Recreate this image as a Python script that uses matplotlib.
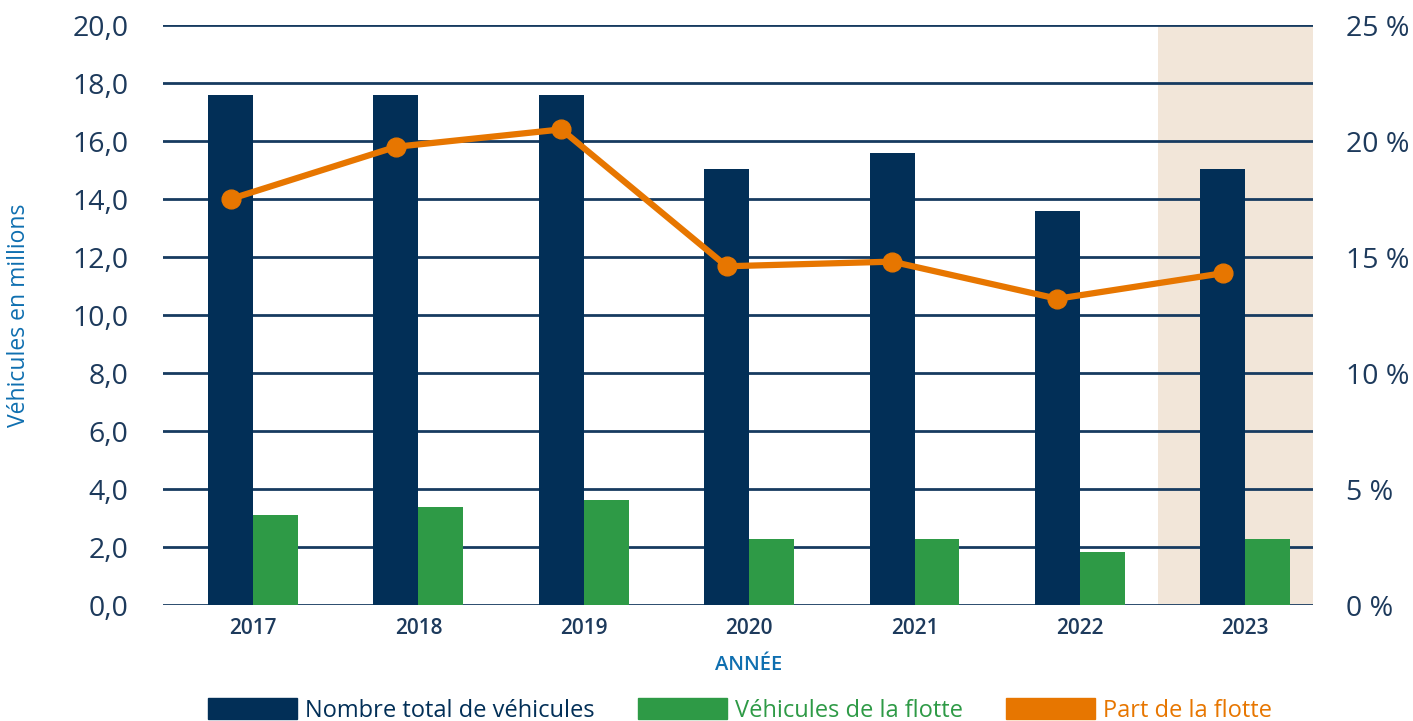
import matplotlib
matplotlib.use("Agg")
import matplotlib.pyplot as plt
from matplotlib.patches import Patch
import numpy as np

years = ["2017", "2018", "2019", "2020", "2021", "2022", "2023"]
total_vehicles = [17.6, 17.6, 17.6, 15.05, 15.6, 13.6, 15.05]
fleet_vehicles = [3.1, 3.38, 3.62, 2.28, 2.28, 1.83, 2.28]
fleet_share = [17.5, 19.75, 20.5, 14.6, 14.8, 13.2, 14.3]

y_ticks = [0, 2, 4, 6, 8, 10, 12, 14, 16, 18, 20]
y2_ticks = [0, 5, 10, 15, 20, 25]

NAVY = "#022f57"
GREEN = "#2e9a46"
ORANGE = "#e77600"
BAND = "#f2e6d9"
GRID = "#173b60"
TXT = "#1d3a5c"
BLUE = "#0f6fb0"

plt.rcParams['font.family'] = ['Open Sans', 'DejaVu Sans']

fig = plt.figure(figsize=(14.13, 7.21), dpi=100)
ax = fig.add_axes([163/1413, 1-605/721, (1313-163)/1413, (605-25)/721])
ax2 = ax.twinx()

x = np.arange(len(years))
w = 0.272
ax.set_xlim(-0.545, 6.41)
ax.axvspan(5.47, 6.41, color=BAND, zorder=0, lw=0)
for t in y_ticks:
    ax.axhline(t, color=GRID, lw=2, zorder=1)
ax.bar(x - w/2, total_vehicles, w, color=NAVY, zorder=2)
ax.bar(x + w/2, fleet_vehicles, w, color=GREEN, zorder=2)
ax.set_ylim(0, 20)
ax.set_yticks(y_ticks)
ax.set_yticklabels([f"{v:.1f}".replace(".", ",") for v in y_ticks], fontsize=20.5, color=TXT)
ax.set_xticks(x)
ax.set_xticklabels(years, fontsize=15, fontweight='semibold', color=TXT)
ax.tick_params(axis='both', length=0)
ax.tick_params(axis='y', pad=25)
ax.tick_params(axis='x', pad=9)
for s in ax.spines.values():
    s.set_visible(False)
ax.set_ylabel("Véhicules en millions", fontsize=16.5, color=BLUE)
ax.yaxis.set_label_coords(-(163-31)/1150, 0.5)
ax.set_xlabel("ANNÉE", fontsize=14.5, fontweight='semibold', color=BLUE)
ax.xaxis.set_label_coords((748.5-163)/1150, -(655-605)/580)

ax2.plot(x - w/2, fleet_share, color=ORANGE, lw=4.5, marker='o', ms=13.5, zorder=3)
ax2.set_ylim(0, 25)
ax2.set_yticks(y2_ticks)
ax2.set_yticklabels([f"{v} %" for v in y2_ticks], fontsize=20.5, color=TXT)
ax2.tick_params(axis='y', length=0, pad=24)
for s in ax2.spines.values():
    s.set_visible(False)

handles = [Patch(color=NAVY), Patch(color=GREEN), Patch(color=ORANGE)]
labels = ["Nombre total de véhicules", "Véhicules de la flotte", "Part de la flotte"]
leg = fig.legend(handles, labels, loc='upper left', bbox_to_anchor=(208/1413, 1-698/721),
                 ncol=3, frameon=False, fontsize=17, handlelength=3.77, handleheight=1.0,
                 handletextpad=0.34, columnspacing=1.82, borderaxespad=0, borderpad=0)
for t, c in zip(leg.get_texts(), [NAVY, GREEN, ORANGE]):
    t.set_color(c)

fig.savefig("out.png", dpi=100)
